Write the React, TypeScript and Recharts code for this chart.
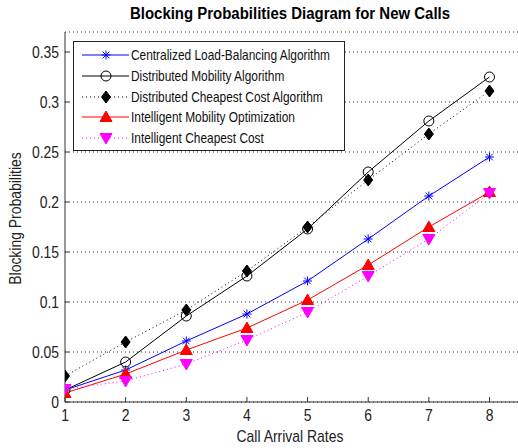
import React from 'react';
import { LineChart, Line, XAxis, YAxis, CartesianGrid } from 'recharts';

const callRates = [1, 2, 3, 4, 5, 6, 7, 8];
const centralizedLB = [0.012, 0.032, 0.061, 0.088, 0.121, 0.163, 0.206, 0.245];
const distributedMobility = [0.012, 0.040, 0.086, 0.126, 0.173, 0.230, 0.281, 0.325];
const distributedCheapest = [0.026, 0.060, 0.092, 0.131, 0.175, 0.222, 0.268, 0.311];
const intelligentMobility = [0.009, 0.028, 0.052, 0.074, 0.102, 0.137, 0.175, 0.210];
const intelligentCheapest = [0.013, 0.021, 0.038, 0.062, 0.090, 0.126, 0.163, 0.209];
const yTicks = [0, 0.05, 0.1, 0.15, 0.2, 0.25, 0.3, 0.35];
const yTickLabels = ['0', '0.05', '0.1', '0.15', '0.2', '0.25', '0.3', '0.35'];
const seriesNames = [
  'Centralized Load-Balancing Algorithm',
  'Distributed Mobility Algorithm',
  'Distributed Cheapest Cost Algorithm',
  'Intelligent Mobility Optimization',
  'Intelligent Cheapest Cost',
];
const titleText = 'Blocking Probabilities Diagram for New Calls';
const xLabel = 'Call Arrival Rates';
const yLabel = 'Blocking Probabilities';

const data = callRates.map((x, i) => ({
  x,
  s0: centralizedLB[i],
  s1: distributedMobility[i],
  s2: distributedCheapest[i],
  s3: intelligentMobility[i],
  s4: intelligentCheapest[i],
}));

const FONT = "'Liberation Sans', Arial, sans-serif";
const SX = 0.82;
const AX = '#333';

type MarkerKind = 'star' | 'circle' | 'diamond' | 'up' | 'down';

const Marker = ({ kind, cx, cy, color }: { kind: MarkerKind; cx: number; cy: number; color: string }) => {
  if (kind === 'star') {
    const r = 4.5;
    const d = r * 0.75;
    return (
      <g stroke={color} strokeWidth={1}>
        <line x1={cx} y1={cy - r} x2={cx} y2={cy + r} />
        <line x1={cx - r} y1={cy} x2={cx + r} y2={cy} />
        <line x1={cx - d} y1={cy - d} x2={cx + d} y2={cy + d} />
        <line x1={cx - d} y1={cy + d} x2={cx + d} y2={cy - d} />
      </g>
    );
  }
  if (kind === 'circle') {
    return <circle cx={cx} cy={cy} r={5} fill="none" stroke={color} strokeWidth={1} />;
  }
  if (kind === 'diamond') {
    return <polygon points={`${cx},${cy - 6} ${cx + 4.5},${cy} ${cx},${cy + 6} ${cx - 4.5},${cy}`} fill={color} stroke={color} />;
  }
  if (kind === 'up') {
    return <polygon points={`${cx},${cy - 6} ${cx + 6},${cy + 4.5} ${cx - 6},${cy + 4.5}`} fill={color} stroke={color} />;
  }
  return <polygon points={`${cx},${cy + 6} ${cx + 6},${cy - 4.5} ${cx - 6},${cy - 4.5}`} fill={color} stroke={color} />;
};

const seriesStyle: { key: string; color: string; dash?: string; kind: MarkerKind }[] = [
  { key: 's0', color: '#0000ff', kind: 'star' },
  { key: 's1', color: '#000000', kind: 'circle' },
  { key: 's2', color: '#000000', dash: '1 3', kind: 'diamond' },
  { key: 's3', color: '#ff0000', kind: 'up' },
  { key: 's4', color: '#ff00ff', dash: '1 3', kind: 'down' },
];

const XTick = (props: any) => {
  const { x, y, payload } = props;
  return (
    <g>
      <line x1={x} y1={y} x2={x} y2={y - 5} stroke={AX} />
      <g transform={`translate(${x},${y + 19}) scale(${SX},1)`}>
        <text x={0} y={0} textAnchor="middle" fontSize={17} fill="#222" fontFamily={FONT}>
          {payload.value}
        </text>
      </g>
    </g>
  );
};

const YTick = (props: any) => {
  const { x, y, payload, index } = props;
  return (
    <g>
      <line x1={x} y1={y} x2={x + 4} y2={y} stroke={AX} />
      <g transform={`translate(${x - 6},${y + 6}) scale(${SX},1)`}>
        <text x={0} y={0} textAnchor="end" fontSize={17} fill="#222" fontFamily={FONT}>
          {yTickLabels[yTicks.indexOf(payload.value)] ?? yTickLabels[index]}
        </text>
      </g>
    </g>
  );
};

const LegendBox = () => (
  <div
    style={{
      position: 'absolute',
      left: 73,
      top: 41,
      width: 270,
      height: 108,
      border: '1px solid #222',
      background: '#fff',
      fontFamily: FONT,
    }}
  >
    {seriesStyle.map((s, i) => (
      <div key={s.key} style={{ position: 'absolute', left: 0, top: 3 + i * 20.75, height: 20, width: 270 }}>
        <svg width={56} height={20} style={{ position: 'absolute', left: 0, top: 0 }}>
          <line x1={8} y1={10} x2={55} y2={10} stroke={s.color} strokeDasharray={s.dash} strokeWidth={1} />
          <Marker kind={s.kind} cx={32} cy={10} color={s.color} />
        </svg>
        <div
          style={{
            position: 'absolute',
            left: 57,
            top: 1,
            fontSize: 14.5,
            lineHeight: '18px',
            color: '#111',
            whiteSpace: 'nowrap',
            transform: `scaleX(${SX})`,
            transformOrigin: 'left center',
          }}
        >
          {seriesNames[i]}
        </div>
      </div>
    ))}
  </div>
);

export default function App() {
  return (
    <div style={{ position: 'absolute', left: 0, top: 0, width: 518, height: 448, background: '#fff', overflow: 'hidden' }}>
      <LineChart width={518} height={448} data={data} margin={{ top: 32, right: 0, left: 5, bottom: 16 }}>
        <CartesianGrid vertical={false} stroke="#333" strokeDasharray="1 3" />
        <XAxis
          type="number"
          dataKey="x"
          domain={[1, 8.47]}
          ticks={callRates}
          height={30}
          allowDataOverflow
          axisLine={{ stroke: AX }}
          tickLine={false}
          tickSize={0}
          tickMargin={0}
          tick={<XTick />}
          interval={0}
        />
        <YAxis
          type="number"
          domain={[0, 0.37]}
          ticks={yTicks}
          width={60}
          allowDataOverflow
          axisLine={{ stroke: AX }}
          tickLine={false}
          tickSize={0}
          tickMargin={0}
          tick={<YTick />}
          interval={0}
        />
        {seriesStyle.map((s) => (
          <Line
            key={s.key}
            type="linear"
            dataKey={s.key}
            stroke={s.color}
            strokeWidth={1}
            strokeDasharray={s.dash}
            isAnimationActive={false}
            activeDot={false}
            dot={(p: any) => <Marker key={`${s.key}-${p.index}`} kind={s.kind} cx={p.cx} cy={p.cy} color={s.color} />}
          />
        ))}
      </LineChart>
      <div
        style={{
          position: 'absolute',
          left: 90,
          width: 400,
          top: 5,
          textAlign: 'center',
          fontFamily: FONT,
          fontWeight: 'bold',
          fontSize: 16,
          lineHeight: '18px',
          color: '#000',
          transform: 'scaleX(0.935)',
          transformOrigin: 'center',
        }}
      >
        {titleText}
      </div>
      <div
        style={{
          position: 'absolute',
          left: 140,
          width: 300,
          top: 427,
          textAlign: 'center',
          fontFamily: FONT,
          fontSize: 17,
          lineHeight: '19px',
          color: '#222',
          transform: `scaleX(${SX})`,
          transformOrigin: 'center',
        }}
      >
        {xLabel}
      </div>
      <div
        style={{
          position: 'absolute',
          left: 15 - 100,
          width: 200,
          top: 218 - 9.5,
          height: 19,
          textAlign: 'center',
          fontFamily: FONT,
          fontSize: 17,
          lineHeight: '19px',
          color: '#222',
          transform: `rotate(-90deg) scaleX(${SX})`,
          transformOrigin: 'center',
        }}
      >
        {yLabel}
      </div>
      <LegendBox />
    </div>
  );
}
